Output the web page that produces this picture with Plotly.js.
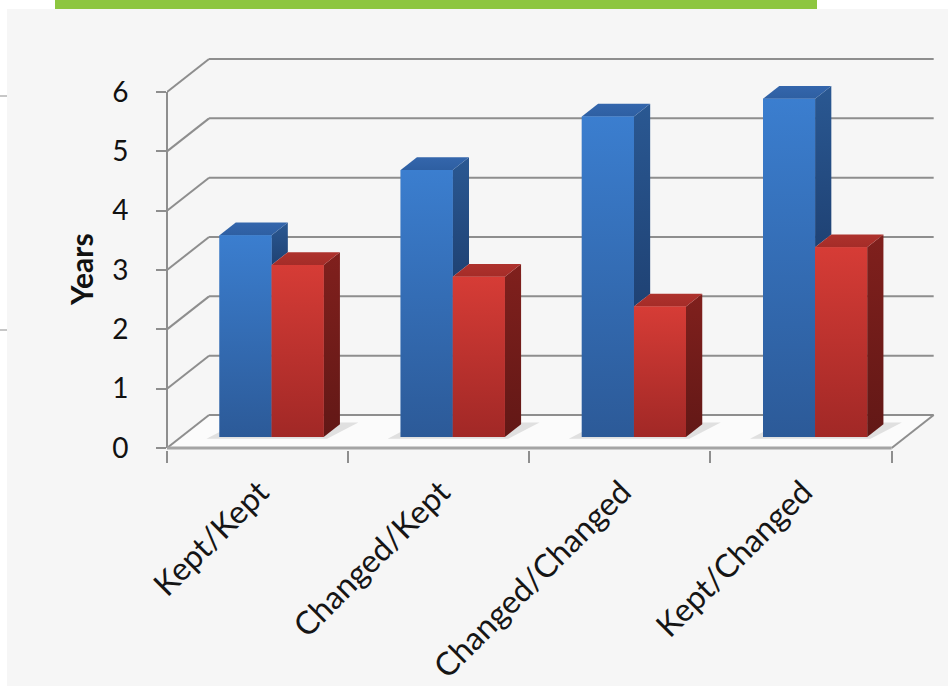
<!DOCTYPE html>
<html>
<head>
<meta charset="utf-8">
<script src="https://cdn.plot.ly/plotly-3.0.1.min.js"></script>
<style>
  html, body { margin: 0; padding: 0; background: #ffffff; }
  #chart { width: 948px; height: 686px; }
</style>
</head>
<body>
<div id="chart"></div>
<script>
// ---- data ----
const categories = ['Kept/Kept', 'Changed/Kept', 'Changed/Changed', 'Kept/Changed'];
const blueYears = [3.4, 4.5, 5.4, 5.7];
const redYears = [2.9, 2.7, 2.2, 3.2];
const yTickValues = [0, 1, 2, 3, 4, 5, 6];
const yTitle = 'Years';

// ---- 3D look: oblique projection in axis units ----
const DEPTH_X = 0.232;     // x shift of the back wall
const DEPTH_Y = 0.556;     // y shift of the back wall
const NEAR = 1 / 3;        // depth of the bar front faces
const FAR = 0.72;          // depth of the bar back faces
const BAR_W = 0.2875;      // width of one bar (category = 1)
const X_MAX = categories.length;
const Y_TOP = yTickValues[yTickValues.length - 1];

const proj = (x, d, y) => [x + d * DEPTH_X, y + d * DEPTH_Y];

function face(points, colorscale, name) {
  const xs = points.map(p => p[0]);
  const ys = points.map(p => p[1]);
  xs.push(xs[0]); ys.push(ys[0]);
  return {
    type: 'scatter', mode: 'lines', x: xs, y: ys,
    fill: 'toself', line: { width: 0, color: 'rgba(0,0,0,0)' },
    fillgradient: { type: 'vertical', colorscale: colorscale },
    hoverinfo: 'skip', showlegend: false, name: name
  };
}

const palette = {
  blue: {
    front: [[0, '#2c5a98'], [1, '#3b7ecf']],
    side:  [[0, '#1f4274'], [1, '#2a5892']],
    top:   [[0, '#2e5fa2'], [1, '#3466ac']],
    bar: '#3570bb'
  },
  red: {
    front: [[0, '#a12826'], [1, '#d63c36']],
    side:  [[0, '#621816'], [1, '#80201d']],
    top:   [[0, '#a52c28'], [1, '#ae322d']],
    bar: '#c0332f'
  }
};

// front faces as real bars, standing on the floor at depth NEAR
const barX = categories.map((c, i) => i + 0.5 + NEAR * DEPTH_X);
const traces = [
  { type: 'bar', name: 'blue', x: barX, y: blueYears, base: NEAR * DEPTH_Y,
    marker: { color: palette.blue.bar, line: { width: 0 } }, hoverinfo: 'y' },
  { type: 'bar', name: 'red', x: barX, y: redYears, base: NEAR * DEPTH_Y,
    marker: { color: palette.red.bar, line: { width: 0 } }, hoverinfo: 'y' }
];

// shaded faces (sides, tops, gradient fronts) derived from the same values
categories.forEach((c, i) => {
  const vb = blueYears[i], vr = redYears[i];
  const bl = i + 0.5 - BAR_W, br = i + 0.5;      // blue bar edges
  const rl = i + 0.5, rr = i + 0.5 + BAR_W;      // red bar edges
  // blue side: only the part rising above the red bar
  if (vb > vr) {
    traces.push(face([proj(br, NEAR, vr), proj(br, FAR, vr), proj(br, FAR, vb), proj(br, NEAR, vb)],
      palette.blue.side, 'blue side'));
  }
  traces.push(face([proj(bl, NEAR, vb), proj(br, NEAR, vb), proj(br, FAR, vb), proj(bl, FAR, vb)],
    palette.blue.top, 'blue top'));
  traces.push(face([proj(bl, NEAR, 0), proj(br, NEAR, 0), proj(br, NEAR, vb), proj(bl, NEAR, vb)],
    palette.blue.front, 'blue front'));
  traces.push(face([proj(rr, NEAR, 0), proj(rr, FAR, 0), proj(rr, FAR, vr), proj(rr, NEAR, vr)],
    palette.red.side, 'red side'));
  traces.push(face([proj(rl, NEAR, vr), proj(rr, NEAR, vr), proj(rr, FAR, vr), proj(rl, FAR, vr)],
    palette.red.top, 'red top'));
  traces.push(face([proj(rl, NEAR, 0), proj(rr, NEAR, 0), proj(rr, NEAR, vr), proj(rl, NEAR, vr)],
    palette.red.front, 'red front'));
});

// ---- walls, floor and gridlines ----
const GRID = '#8e8e8e';
const shapes = [];
const toPath = pts => 'M' + pts.map(p => p[0] + ',' + p[1]).join('L') + 'Z';

// slide background and accent bar (pixel positions converted to paper units)
const PL = 167, PW = 779, PT = 10, PH = 440;
const px = v => (v - PL) / PW;
const py = v => (PT + PH - v) / PH;
shapes.push({ type: 'rect', xref: 'paper', yref: 'paper', layer: 'below',
  x0: px(7), x1: px(948), y0: py(9), y1: py(686), fillcolor: '#f6f6f6', line: { width: 0 } });
shapes.push({ type: 'rect', xref: 'paper', yref: 'paper', layer: 'above',
  x0: px(55), x1: px(817), y0: py(0), y1: py(9), fillcolor: '#8dc63f', line: { width: 0 } });
shapes.push({ type: 'line', xref: 'paper', yref: 'paper', layer: 'above',
  x0: px(0), x1: px(7), y0: py(96), y1: py(96), line: { color: '#b5b5b5', width: 1.5 } });
shapes.push({ type: 'line', xref: 'paper', yref: 'paper', layer: 'above',
  x0: px(0), x1: px(7), y0: py(330), y1: py(330), line: { color: '#b5b5b5', width: 1.5 } });

// floor
shapes.push({ type: 'path', xref: 'x', yref: 'y', layer: 'below',
  path: toPath([proj(0, 0, 0), proj(X_MAX, 0, 0), proj(X_MAX, 1, 0), proj(0, 1, 0)]),
  fillcolor: '#fbfbfb', line: { width: 0 } });

// soft shadows on the floor round each bar pair
categories.forEach((c, i) => {
  const l = i + 0.5 - BAR_W, r = i + 0.5 + BAR_W;
  shapes.push({ type: 'path', xref: 'x', yref: 'y', layer: 'below',
    path: toPath([proj(l - 0.06, NEAR - 0.05, 0), proj(r + 0.03, NEAR - 0.05, 0),
                  proj(r + 0.09, FAR + 0.05, 0), proj(l, FAR + 0.05, 0)]),
    fillcolor: 'rgba(140,140,140,0.24)', line: { width: 0 } });
});

// back wall gridlines and left wall diagonals
yTickValues.forEach(v => {
  const a = proj(0, 1, v), b = proj(X_MAX, 1, v), f = proj(0, 0, v);
  shapes.push({ type: 'line', xref: 'x', yref: 'y', layer: 'below',
    x0: a[0], y0: a[1], x1: b[0], y1: b[1], line: { color: GRID, width: 2 } });
  shapes.push({ type: 'line', xref: 'x', yref: 'y', layer: 'below',
    x0: f[0], y0: f[1], x1: a[0], y1: a[1], line: { color: GRID, width: 2 } });
});
// floor right edge and front edge
const fr = proj(X_MAX, 0, 0), br2 = proj(X_MAX, 1, 0);
shapes.push({ type: 'line', xref: 'x', yref: 'y', layer: 'below',
  x0: fr[0], y0: fr[1], x1: br2[0], y1: br2[1], line: { color: GRID, width: 2 } });
shapes.push({ type: 'line', xref: 'x', yref: 'y', layer: 'below',
  x0: 0, y0: 0, x1: X_MAX, y1: 0, line: { color: '#a4a4a4', width: 3 } });
// front value axis
shapes.push({ type: 'line', xref: 'paper', yref: 'y', layer: 'below',
  x0: 0, y0: 0, x1: 0, y1: Y_TOP, line: { color: GRID, width: 2 } });

const FONT = 'Lato, "Open Sans", sans-serif';

const layout = {
  width: 948, height: 686,
  margin: { l: PL, r: 948 - PL - PW, t: PT, b: 686 - PT - PH, pad: 0 },
  paper_bgcolor: '#ffffff',
  plot_bgcolor: 'rgba(0,0,0,0)',
  showlegend: false,
  barmode: 'group', bargap: 0.425, bargroupgap: 0,
  xaxis: {
    range: [0, 4.3], fixedrange: true,
    tickmode: 'array', tickvals: categories.map((c, i) => i + 0.5), ticktext: categories,
    ticks: '', tickangle: -45, ticklabelstandoff: 16, ticklabelshift: 2,
    tickfont: { family: FONT, size: 32, color: '#151515' },
    showgrid: false, zeroline: false, showline: false,
    minor: { tickmode: 'array', tickvals: categories.map((c, i) => i).concat([X_MAX]),
             ticks: 'outside', ticklen: 12, tickwidth: 2, tickcolor: GRID, showgrid: false }
  },
  yaxis: {
    range: [-2 / 59.33, 440 / 59.33 - 2 / 59.33], fixedrange: true,
    tickmode: 'array', tickvals: yTickValues, ticktext: yTickValues.map(String),
    ticks: 'outside', ticklen: 10, tickwidth: 2, tickcolor: GRID,
    ticklabelstandoff: 22,
    tickfont: { family: FONT, size: 28, color: '#111111' },
    showgrid: false, zeroline: false, showline: false
  },
  // value-axis title, centred on the 0-6 scale
  annotations: [{
    text: yTitle, textangle: -90, xref: 'paper', yref: 'y',
    x: px(81), y: Y_TOP / 2, xanchor: 'center', yanchor: 'middle', showarrow: false,
    font: { family: FONT, size: 30, color: '#111111', weight: 'bold' }
  }],
  shapes: shapes
};

Plotly.newPlot('chart', traces, layout, { displayModeBar: false, staticPlot: true });
</script>
</body>
</html>
